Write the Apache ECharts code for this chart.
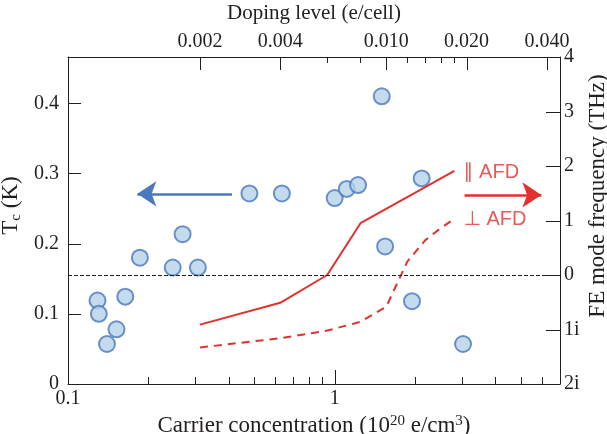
<!DOCTYPE html>
<html>
<head>
<meta charset="utf-8">
<script src="https://cdn.jsdelivr.net/npm/echarts@6/dist/echarts.min.js"></script>
<style>
html,body{margin:0;padding:0;background:#fff;}
#c{width:607px;height:434px;}
</style>
</head>
<body>
<div id="c"></div>
<script>
// ---- data ----
// Tc measurements: carrier concentration (1e20 e/cm^3) and Tc (K)
const tcCarrier = [0.129, 0.1305, 0.152, 0.140, 0.164, 0.186, 0.269, 0.247, 0.307, 0.479, 0.634, 1.0, 1.11, 1.224, 1.502, 1.546, 1.95, 2.12, 3.03];
const tcValue   = [0.119, 0.100, 0.078, 0.057, 0.1245, 0.180, 0.2135, 0.166, 0.166, 0.2715, 0.2715, 0.265, 0.278, 0.2835, 0.410, 0.196, 0.118, 0.293, 0.057];
// FE mode frequency (THz; negative = imaginary)
const parCarrier  = [0.3125, 0.625, 0.9375, 1.25, 2.8125];
const parTHz      = [-0.91, -0.51, 0.0, 0.95, 1.91];
const perpCarrier = [0.3125, 0.625, 0.9375, 1.25, 1.5625, 1.875, 2.1875, 2.5, 2.8125];
const perpTHz     = [-1.33, -1.16, -1.02, -0.86, -0.58, 0.25, 0.64, 0.86, 1.03];
// axes
const carrierLabels = [0.1, 1];
const carrierMajorTicks = [1];
const carrierMinorTicks = [0.2, 0.3, 0.4, 0.5, 0.6, 0.7, 0.8, 0.9, 2, 3, 4, 5, 6];
const dopingPerCarrier = 0.0064; // e/cell per 1e20 e/cm^3
const dopingLabels = [0.002, 0.004, 0.010, 0.020, 0.040];
const dopingMinorTicks = [0.006, 0.008, 0.012, 0.014, 0.016, 0.018];
const tcTicks = [0.1, 0.2, 0.3, 0.4];
const freqTicks = [-1, 0, 1, 2, 3];
const labelTexts = ['∥ AFD', '⊥ AFD'];
const labelPos = [[3.03, 1.875], [3.03, 1.01]];
const blueArrow = [[0.412, 0.271], [0.182, 0.271]];
const redArrow = [[3.07, 1.47], [5.96, 1.47]];
const rightTitle = 'FE mode frequency (THz)';

const xMin = 0.1, xMax = 7;
const tcMin = 0, tcMax = 0.466;
const serif = "'Liberation Serif', 'DejaVu Serif', serif";
const sans = "'Liberation Sans', 'DejaVu Sans', sans-serif";
const ink = '#231f20';
const red = '#e2312d';
const blue = '#4a78bd';

const chart = echarts.init(document.getElementById('c'), null, {renderer: 'canvas'});

function xAx(opts) {
  return Object.assign({
    type: 'log', logBase: 10, gridIndex: 0, min: xMin, max: xMax,
    axisLine: {show: true, onZero: false, lineStyle: {color: ink, width: 1}},
    splitLine: {show: false},
    minorTick: {show: false},
    axisLabel: {show: false},
    axisTick: {show: false}
  }, opts);
}

// tick marks drawn through the axes' own scales
function xTickSeries(values, xAxisIndex, atValue, len, dir) {
  return {
    type: 'custom', xAxisIndex: xAxisIndex, yAxisIndex: 0, silent: true, clip: false, z: 5,
    data: values.map(v => [v, atValue]),
    renderItem: function (params, api) {
      const p = api.coord([api.value(0), api.value(1)]);
      const x = Math.round(p[0]) + 0.5;
      return {type: 'line', shape: {x1: x, y1: p[1], x2: x, y2: p[1] + dir * len},
        style: {stroke: ink, lineWidth: 1}};
    }
  };
}
function yTickSeries(values, yAxisIndex, atValue, len, dir) {
  return {
    type: 'custom', xAxisIndex: 0, yAxisIndex: yAxisIndex, silent: true, clip: false, z: 5,
    data: values.map(v => [atValue, v]),
    renderItem: function (params, api) {
      const p = api.coord([api.value(0), api.value(1)]);
      const y = Math.round(p[1]) + 0.5;
      return {type: 'line', shape: {x1: p[0], y1: y, x2: p[0] + dir * len, y2: y},
        style: {stroke: ink, lineWidth: 1}};
    }
  };
}

const option = {
  animation: false,
  backgroundColor: '#fff',
  grid: {left: 68, right: 47, top: 57, bottom: 50, containLabel: false, outerBoundsMode: 'none'},
  graphic: [{
    type: 'text', x: 598, y: 196, rotation: Math.PI / 2, silent: true,
    style: {text: rightTitle, fill: ink, fontFamily: serif, fontSize: 23,
      align: 'center', verticalAlign: 'middle', textAlign: 'center', textVerticalAlign: 'middle'}
  }],
  xAxis: [
    xAx({
      position: 'bottom',
      name: 'Carrier concentration (10{sup|20} e/cm{sup|3})',
      nameLocation: 'middle', nameGap: 19,
      nameTextStyle: {fontFamily: serif, fontSize: 23, color: ink, lineHeight: 24,
        rich: {sup: {fontFamily: serif, fontSize: 15, lineHeight: 12, verticalAlign: 'top', color: ink}}},
      axisLabel: {show: true, customValues: carrierLabels, fontFamily: serif, fontSize: 20, color: ink, margin: 5,
        formatter: v => String(v)}
    }),
    xAx({
      position: 'top', min: xMin * dopingPerCarrier, max: xMax * dopingPerCarrier,
      name: 'Doping level (e/cell)', nameLocation: 'middle', nameGap: 33,
      nameTextStyle: {fontFamily: serif, fontSize: 21, color: ink},
      axisLabel: {show: true, customValues: dopingLabels, fontFamily: serif, fontSize: 20, color: ink, margin: 5,
        formatter: v => v.toFixed(3)}
    })
  ],
  yAxis: [
    {
      type: 'value', position: 'left', min: tcMin, max: tcMax, interval: 0.1,
      name: 'T{sub|c} (K)', nameLocation: 'middle', nameGap: 36, nameRotate: 90,
      nameTextStyle: {fontFamily: serif, fontSize: 23, color: ink, lineHeight: 24, padding: [0, 0, 0, 30],
        rich: {sub: {fontFamily: serif, fontSize: 15, lineHeight: 10, verticalAlign: 'bottom', color: ink}}},
      axisLine: {show: true, onZero: false, lineStyle: {color: ink}},
      splitLine: {show: false},
      axisTick: {show: false},
      axisLabel: {fontFamily: serif, fontSize: 20, color: ink, margin: 9,
        formatter: v => (Math.abs(v * 10 - Math.round(v * 10)) < 1e-6 ? String(+v.toFixed(1)) : '')}
    },
    {
      type: 'value', position: 'right', min: -2, max: 4, interval: 1,
      axisLine: {show: true, onZero: false, lineStyle: {color: ink}},
      splitLine: {show: false},
      axisTick: {show: false},
      axisLabel: {fontFamily: serif, fontSize: 20, color: ink, margin: 4,
        formatter: v => v < 0 ? (-v) + 'i' : String(v)}
    }
  ],
  series: [
    {
      type: 'line', name: 'perp', xAxisIndex: 0, yAxisIndex: 1,
      data: perpCarrier.map((c, i) => [c, perpTHz[i]]),
      showSymbol: false, symbol: 'none', silent: true,
      lineStyle: {color: red, width: 2, type: [8, 6]},
      markLine: {
        silent: true, symbol: ['none', 'none'], label: {show: false},
        lineStyle: {color: ink, width: 1, type: 'dashed'},
        data: [{yAxis: 0}]
      }
    },
    {
      type: 'line', name: 'par', xAxisIndex: 0, yAxisIndex: 1,
      data: parCarrier.map((c, i) => [c, parTHz[i]]),
      showSymbol: false, symbol: 'none', silent: true,
      lineStyle: {color: red, width: 2},
      markLine: {
        silent: true, symbol: ['none', 'arrow'], symbolSize: 19, label: {show: false},
        lineStyle: {color: red, width: 2.5, type: 'solid'},
        data: [[{coord: redArrow[0]}, {coord: redArrow[1]}]]
      }
    },
    {
      type: 'scatter', name: 'Tc', xAxisIndex: 0, yAxisIndex: 0,
      data: tcCarrier.map((c, i) => [c, tcValue[i]]),
      symbol: 'circle', symbolSize: 16, silent: true,
      itemStyle: {color: '#b5d2e8', borderColor: blue, borderWidth: 2},
      markLine: {
        silent: true, symbol: ['none', 'arrow'], symbolSize: 19, label: {show: false},
        lineStyle: {color: blue, width: 2.5, type: 'solid'},
        data: [[{coord: blueArrow[0]}, {coord: blueArrow[1]}]]
      }
    },
    {
      type: 'scatter', name: 'labels', xAxisIndex: 0, yAxisIndex: 1,
      data: labelPos.map((p, i) => [p[0], p[1], labelTexts[i]]),
      symbolSize: 1, silent: true,
      itemStyle: {color: 'rgba(0,0,0,0)'},
      label: {show: true, position: 'right', distance: 0, color: red, fontFamily: sans, fontSize: 20,
        formatter: p => p.data[2]}
    },
    xTickSeries(carrierMajorTicks, 0, tcMin, 14, -1),
    xTickSeries(carrierMinorTicks, 0, tcMin, 7, -1),
    xTickSeries(dopingLabels, 1, tcMax, 13, 1),
    xTickSeries(dopingMinorTicks, 1, tcMax, 6, 1),
    yTickSeries(tcTicks, 0, xMin, 13, 1),
    yTickSeries(freqTicks, 1, xMax, 14, -1)
  ]
};
chart.setOption(option);
</script>
</body>
</html>
